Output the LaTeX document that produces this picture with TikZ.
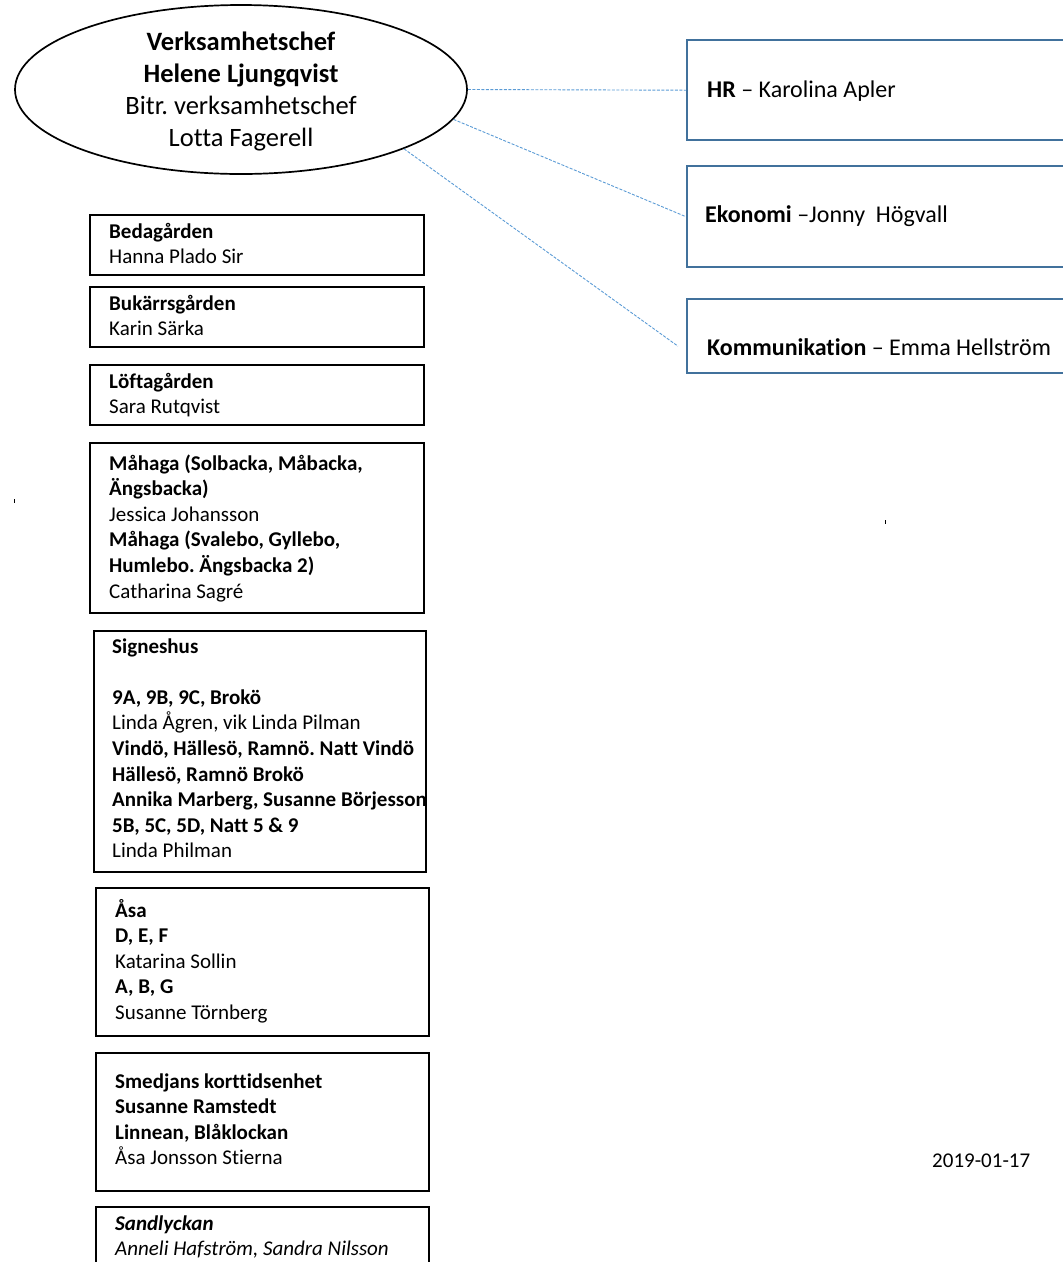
\documentclass[tikz,border=0pt]{standalone}
\usepackage{fontspec}
\setmainfont{Carlito}[Ligatures=NoCommon]
\frenchspacing
\usetikzlibrary{shapes.geometric}
\definecolor{boxblue}{RGB}{65,113,156}
\definecolor{linkblue}{RGB}{91,155,213}
\newcommand\lstack[2]{\vtop{\baselineskip=#1\lineskiplimit=-100pt\halign{##\hfil\cr#2\crcr}}}
\newcommand\cstack[2]{\vtop{\baselineskip=#1\lineskiplimit=-100pt\halign{\hfil##\hfil\cr#2\crcr}}}
\tikzset{
  orgbox/.style={draw=black, line width=1.7pt, inner sep=0pt, anchor=north west},
  staffbox/.style={draw=boxblue, line width=2.4pt, inner sep=0pt, anchor=north west, minimum width=384pt},
  link/.style={draw=linkblue, line width=0.9pt, dash pattern=on 3pt off 1.5pt},
  lbl/.style={inner sep=0pt, anchor=base west, font=\fontsize{21}{25.6}\selectfont},
  stafflbl/.style={inner sep=0pt, anchor=base west, font=\fontsize{24}{29}\selectfont},
  headlbl/.style={inner sep=0pt, anchor=base, font=\fontsize{26.5}{32}\selectfont}
}
\begin{document}
\begin{tikzpicture}[x=1pt, y=-1pt]
\useasboundingbox (0,0) rectangle (1063,1262);
% head ellipse
\node[draw=black, ellipse, line width=1.7pt, minimum width=452pt, minimum height=169pt, inner sep=0pt] (ell) at (241,89.5) {};
\node[headlbl] (elltxt) at (241,50) {\cstack{32pt}{\textbf{Verksamhetschef}\cr\textbf{Helene Ljungqvist}\cr Bitr. verksamhetschef\cr Lotta Fagerell}};
% staff boxes
\node[staffbox, minimum height=100pt] (hr) at (686,39) {};
\node[staffbox, minimum height=101pt] (eko) at (686,165) {};
\node[staffbox, minimum height=74pt] (kom) at (686,298) {};
\node[stafflbl] (hrt) at (707,97) {\textbf{HR} – Karolina Apler};
\node[stafflbl] (ekot) at (705,222) {\textbf{Ekonomi} –Jonny\ \ Högvall};
\node[stafflbl] (komt) at (707,355) {\textbf{Kommunikation} – Emma Hellström};
% connectors
\draw[link] (ell.east) -- (hr.west);
\draw[link] (ell.-8) -- (eko.west);
\coordinate (komend) at ([xshift=-8pt,yshift=-10pt]kom.west);
\draw[link] (ell.-20) -- (komend);
% unit boxes
\node[orgbox, minimum width=334pt, minimum height=60pt] (bedag) at (89,214) {};
\node[lbl] (bedagt) at (109,238) {\lstack{25.6pt}{\textbf{Bedagården}\cr Hanna Plado Sir}};
\node[orgbox, minimum width=334pt, minimum height=60pt] (bukarr) at (89,286) {};
\node[lbl] (bukarrt) at (109,310) {\lstack{25.6pt}{\textbf{Bukärrsgården}\cr Karin Särka}};
\node[orgbox, minimum width=334pt, minimum height=60pt] (loft) at (89,364) {};
\node[lbl] (loftt) at (109,388) {\lstack{25.6pt}{\textbf{Löftagården}\cr Sara Rutqvist}};
\node[orgbox, minimum width=334pt, minimum height=170pt] (mahaga) at (89,442) {};
\node[lbl] (mahagat) at (109,470) {\lstack{25.6pt}{\textbf{Måhaga (Solbacka, Måbacka,}\cr\textbf{Ängsbacka)}\cr Jessica Johansson\cr\textbf{Måhaga (Svalebo, Gyllebo,}\cr\textbf{Humlebo. Ängsbacka 2)}\cr Catharina Sagré}};
\node[orgbox, minimum width=332pt, minimum height=241pt] (signes) at (93,630) {};
\node[lbl] (signest) at (112,653) {\lstack{25.6pt}{\textbf{Signeshus}\cr\cr\textbf{9A, 9B, 9C, Brokö}\cr Linda Ågren, vik Linda Pilman\cr\textbf{Vindö, Hällesö, Ramnö. Natt Vindö}\cr\textbf{Hällesö, Ramnö Brokö}\cr\textbf{Annika Marberg, Susanne Börjesson}\cr\textbf{5B, 5C, 5D, Natt 5 \& 9}\cr Linda Philman}};
\node[orgbox, minimum width=333pt, minimum height=148pt] (asa) at (95,887) {};
\node[lbl] (asat) at (115,917) {\lstack{25.6pt}{\textbf{Åsa}\cr\textbf{D, E, F}\cr Katarina Sollin\cr\textbf{A, B, G}\cr Susanne Törnberg}};
\node[orgbox, minimum width=333pt, minimum height=138pt] (smed) at (95,1052) {};
\node[lbl] (smedt) at (115,1088) {\lstack{25.6pt}{\textbf{Smedjans korttidsenhet}\cr\textbf{Susanne Ramstedt}\cr\textbf{Linnean, Blåklockan}\cr Åsa Jonsson Stierna}};
\node[orgbox, minimum width=333pt, minimum height=70pt] (sand) at (95,1206) {};
\node[lbl] (sandt) at (115,1230) {\lstack{25.6pt}{\textbf{\textit{Sandlyckan}}\cr\textit{Anneli Hafström, Sandra Nilsson}}};
% date
\node[lbl] (date) at (932,1167) {2019-01-17};
% stray marks
\fill (13.5,499) rectangle (15,503);
\fill (884.5,520) rectangle (886,524);
\end{tikzpicture}
\end{document}
